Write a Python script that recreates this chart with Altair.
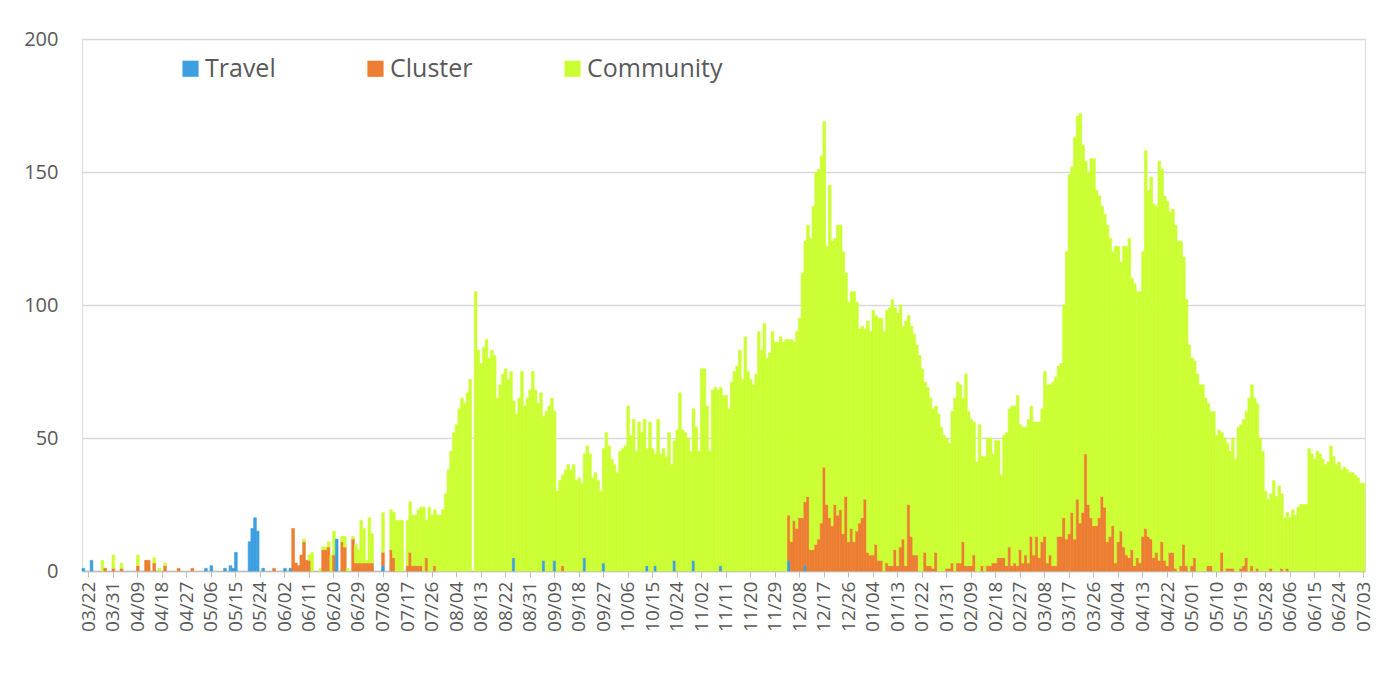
import altair as alt
import pandas as pd

# ---- categories: one bar per day, 2020-03-20 .. 2021-07-03 ----
start_date = "2020-03-20"
n_days = 471
dates = pd.date_range(start_date, periods=n_days, freq="D").strftime("%Y-%m-%d").tolist()
label_dates = dates[2::9]          # 03/22, 03/31, ... every 9 days

series_names = ["Travel", "Cluster", "Community"]
series_colors = ["#3d9fe0", "#ed7d31", "#ccff33"]

# ---- daily values ----
travel = [
    1, 0, 0, 4, 0, 0, 0, 0, 0, 0,
    0, 0, 0, 0, 0, 0, 0, 0, 0, 0,
    0, 0, 0, 0, 0, 0, 0, 0, 0, 0,
    0, 0, 0, 0, 0, 0, 0, 0, 0, 0,
    0, 0, 0, 0, 0, 1, 0, 2, 0, 0,
    0, 0, 1, 0, 2, 1, 7, 0, 0, 0,
    0, 11, 16, 20, 15, 0, 1, 0, 0, 0,
    0, 0, 0, 0, 1, 0, 1, 0, 0, 0,
    0, 0, 0, 0, 0, 0, 0, 0, 0, 0,
    0, 0, 0, 12, 0, 0, 0, 0, 0, 0,
    0, 0, 0, 0, 0, 0, 0, 0, 0, 0,
    2, 0, 0, 0, 0, 0, 0, 0, 0, 0,
    0, 0, 0, 0, 0, 0, 0, 0, 0, 0,
    0, 0, 0, 0, 0, 0, 0, 0, 0, 0,
    0, 0, 0, 0, 0, 0, 0, 0, 0, 0,
    0, 0, 0, 0, 0, 0, 0, 0, 5, 0,
    0, 0, 0, 0, 0, 0, 0, 0, 0, 4,
    0, 0, 0, 4, 0, 0, 0, 0, 0, 0,
    0, 0, 0, 0, 5, 0, 0, 0, 0, 0,
    0, 3, 0, 0, 0, 0, 0, 0, 0, 0,
    0, 0, 0, 0, 0, 0, 0, 2, 0, 0,
    2, 0, 0, 0, 0, 0, 0, 4, 0, 0,
    0, 0, 0, 0, 4, 0, 0, 0, 0, 0,
    0, 0, 0, 0, 2, 0, 0, 0, 0, 0,
    0, 0, 0, 0, 0, 0, 0, 0, 0, 0,
    0, 0, 0, 0, 0, 0, 0, 0, 0, 4,
    0, 0, 0, 0, 0, 2, 0, 0, 0, 0,
    0, 0, 0, 0, 0, 0, 0, 0, 0, 0,
    0, 0, 0, 0, 0, 0, 0, 0, 0, 0,
    0, 0, 0, 0, 0, 0, 0, 0, 0, 0,
    0, 0, 0, 0, 0, 0, 0, 0, 0, 0,
    0, 0, 0, 0, 0, 0, 0, 0, 0, 0,
    0, 0, 0, 0, 0, 0, 0, 0, 0, 0,
    0, 0, 0, 0, 0, 0, 0, 0, 0, 0,
    0, 0, 0, 0, 0, 0, 0, 0, 0, 0,
    0, 0, 0, 0, 0, 0, 0, 0, 0, 0,
    0, 0, 0, 0, 0, 0, 0, 0, 0, 0,
    0, 0, 0, 0, 0, 0, 0, 0, 0, 0,
    0, 0, 0, 0, 0, 0, 0, 0, 0, 0,
    0, 0, 0, 0, 0, 0, 0, 0, 0, 0,
    0, 0, 0, 0, 0, 0, 0, 0, 0, 0,
    0, 0, 0, 0, 0, 0, 0, 0, 0, 0,
    0, 0, 0, 0, 0, 0, 0, 0, 0, 0,
    0, 0, 0, 0, 0, 0, 0, 0, 0, 0,
    0, 0, 0, 0, 0, 0, 0, 0, 0, 0,
    0, 0, 0, 0, 0, 0, 0, 0, 0, 0,
    0, 0, 0, 0, 0, 0, 0, 0, 0, 0, 0,
]

cluster = [
    0, 0, 0, 0, 0, 0, 0, 0, 1, 0,
    0, 1, 0, 0, 1, 0, 0, 0, 0, 0,
    2, 0, 0, 4, 4, 0, 3, 0, 0, 0,
    2, 0, 0, 0, 0, 1, 0, 0, 0, 0,
    1, 0, 0, 0, 0, 0, 0, 0, 0, 0,
    0, 0, 0, 0, 0, 0, 0, 0, 0, 0,
    0, 0, 0, 0, 0, 0, 0, 0, 0, 0,
    1, 0, 0, 0, 0, 0, 0, 16, 3, 2,
    6, 11, 4, 4, 0, 0, 0, 0, 8, 8,
    9, 0, 6, 0, 0, 11, 9, 0, 0, 12,
    3, 3, 3, 3, 3, 3, 3, 0, 0, 0,
    5, 0, 0, 8, 5, 0, 0, 0, 0, 2,
    7, 2, 2, 2, 2, 0, 5, 0, 0, 2,
    0, 0, 0, 0, 0, 0, 0, 0, 0, 0,
    0, 0, 0, 0, 0, 0, 0, 0, 0, 0,
    0, 0, 0, 0, 0, 0, 0, 0, 0, 0,
    0, 0, 0, 0, 0, 0, 0, 0, 0, 0,
    0, 0, 0, 0, 0, 0, 2, 0, 0, 0,
    0, 0, 0, 0, 0, 0, 0, 0, 0, 0,
    0, 0, 0, 0, 0, 0, 0, 0, 0, 0,
    0, 0, 0, 0, 0, 0, 0, 0, 0, 0,
    0, 0, 0, 0, 0, 0, 0, 0, 0, 0,
    0, 0, 0, 0, 0, 0, 0, 0, 0, 0,
    0, 0, 0, 0, 0, 0, 0, 0, 0, 0,
    0, 0, 0, 0, 0, 0, 0, 0, 0, 0,
    0, 0, 0, 0, 0, 0, 0, 0, 0, 17,
    11, 19, 16, 20, 20, 24, 28, 8, 8, 10,
    12, 18, 39, 25, 20, 17, 25, 21, 23, 14,
    28, 11, 16, 11, 15, 18, 20, 27, 7, 6,
    6, 10, 4, 4, 0, 3, 2, 2, 8, 2,
    9, 12, 2, 25, 13, 6, 6, 0, 0, 7,
    2, 2, 1, 7, 0, 0, 0, 1, 1, 3,
    0, 3, 3, 11, 2, 2, 2, 6, 0, 0,
    2, 0, 2, 2, 3, 3, 5, 5, 5, 2,
    9, 2, 3, 2, 8, 3, 6, 3, 13, 6,
    13, 5, 11, 13, 3, 6, 2, 2, 13, 13,
    20, 12, 14, 22, 12, 27, 18, 22, 44, 25,
    20, 17, 17, 20, 28, 24, 11, 13, 17, 3,
    11, 15, 9, 6, 5, 8, 2, 5, 3, 13,
    16, 13, 12, 5, 7, 4, 11, 4, 2, 7,
    7, 1, 0, 2, 10, 2, 0, 2, 5, 0,
    0, 0, 0, 2, 2, 0, 0, 0, 7, 0,
    1, 1, 1, 0, 0, 1, 2, 5, 0, 2,
    0, 1, 0, 0, 0, 0, 1, 0, 0, 0,
    1, 0, 1, 0, 0, 0, 0, 0, 0, 0,
    0, 0, 0, 0, 0, 0, 0, 0, 0, 0,
    0, 0, 0, 0, 0, 0, 0, 0, 0, 0, 0,
]

community = [
    0, 0, 0, 0, 0, 0, 0, 4, 0, 0,
    0, 5, 0, 0, 2, 0, 0, 0, 0, 0,
    4, 0, 0, 0, 0, 0, 2, 0, 1, 0,
    1, 0, 0, 0, 0, 0, 0, 0, 0, 0,
    0, 0, 0, 0, 0, 0, 0, 0, 0, 0,
    0, 0, 0, 0, 0, 0, 0, 0, 0, 0,
    0, 0, 0, 0, 0, 0, 0, 0, 0, 0,
    0, 0, 0, 0, 0, 0, 0, 0, 0, 0,
    0, 1, 0, 2, 7, 0, 0, 1, 1, 1,
    2, 6, 9, 0, 0, 2, 4, 1, 0, 1,
    7, 5, 16, 13, 1, 17, 11, 0, 0, 0,
    15, 0, 0, 15, 17, 19, 19, 19, 0, 17,
    19, 19, 19, 21, 22, 24, 14, 24, 21, 21,
    21, 21, 23, 29, 38, 45, 52, 55, 61, 65,
    63, 67, 72, 0, 105, 83, 78, 84, 87, 80,
    83, 81, 65, 70, 74, 76, 72, 75, 59, 59,
    65, 75, 62, 65, 68, 75, 68, 63, 67, 54,
    60, 62, 65, 56, 30, 34, 34, 38, 40, 38,
    40, 34, 35, 33, 39, 47, 44, 35, 37, 34,
    30, 43, 52, 47, 42, 40, 37, 45, 46, 47,
    62, 51, 57, 45, 56, 52, 57, 44, 56, 46,
    42, 57, 44, 46, 43, 52, 40, 45, 53, 67,
    53, 52, 50, 45, 57, 54, 45, 76, 76, 62,
    45, 68, 69, 68, 67, 66, 66, 61, 71, 75,
    77, 83, 72, 88, 75, 72, 70, 74, 90, 83,
    93, 80, 82, 90, 86, 86, 88, 86, 87, 66,
    76, 67, 74, 75, 92, 98, 102, 117, 129, 140,
    139, 138, 130, 97, 125, 107, 100, 109, 107, 106,
    84, 90, 89, 94, 86, 73, 72, 64, 87, 84,
    92, 86, 91, 91, 90, 95, 97, 100, 91, 95,
    91, 80, 92, 71, 79, 83, 79, 81, 76, 64,
    67, 63, 60, 55, 59, 54, 51, 49, 47, 57,
    65, 68, 67, 54, 72, 58, 55, 50, 41, 55,
    41, 43, 48, 48, 41, 46, 44, 31, 46, 50,
    52, 60, 59, 64, 47, 51, 48, 54, 49, 50,
    43, 51, 50, 62, 67, 64, 69, 71, 64, 65,
    80, 108, 135, 130, 151, 144, 154, 138, 110, 125,
    135, 138, 126, 121, 109, 110, 119, 112, 103, 119,
    111, 101, 113, 116, 120, 102, 106, 100, 102, 107,
    142, 130, 136, 133, 130, 150, 140, 137, 137, 128,
    129, 129, 124, 122, 108, 100, 85, 78, 74, 74,
    70, 70, 65, 61, 58, 60, 51, 53, 45, 50,
    47, 44, 49, 42, 54, 54, 55, 55, 65, 68,
    65, 62, 50, 45, 30, 27, 28, 34, 28, 32,
    28, 20, 21, 20, 23, 21, 24, 25, 25, 25,
    46, 44, 42, 45, 44, 42, 40, 41, 47, 43,
    40, 41, 38, 39, 38, 37, 37, 36, 35, 33, 33,
]

y_ticks = [0, 50, 100, 150, 200]

# ---- long table for stacking ----
records = []
for i, d in enumerate(dates):
    for k, (name, arr) in enumerate(zip(series_names, [travel, cluster, community])):
        records.append({"date": d, "series": name, "value": arr[i], "order": k})
df = pd.DataFrame(records)

FONT = "Open Sans"
TXT = "#595959"

color_scale = alt.Scale(domain=series_names, range=series_colors)

chart = (
    alt.Chart(df)
    .transform_filter("datum.value > 0")
    .mark_bar(strokeWidth=0.6)
    .encode(
        x=alt.X(
            "date:O",
            scale=alt.Scale(domain=dates, paddingInner=0, paddingOuter=0),
            axis=alt.Axis(
                values=label_dates,
                labelExpr="substring(datum.value,5,7) + '/' + substring(datum.value,8,10)",
                labelAngle=270,
                title=None,
                labelFont=FONT,
                labelFontSize=19,
                labelColor=TXT,
                labelPadding=4,
                ticks=True,
                tickSize=6,
                tickColor="#bfbfbf",
                domainColor="#bfbfbf",
                domainWidth=1.5,
                grid=False,
            ),
        ),
        y=alt.Y(
            "value:Q",
            stack="zero",
            scale=alt.Scale(domain=[0, 200], nice=False),
            axis=alt.Axis(
                values=y_ticks,
                title=None,
                ticks=False,
                domain=False,
                labelFont=FONT,
                labelFontSize=20,
                labelColor=TXT,
                labelPadding=24,
                gridColor="#d9d9d9",
                gridWidth=1.5,
            ),
        ),
        color=alt.Color(
            "series:N",
            scale=color_scale,
            legend=alt.Legend(
                orient="none",
                legendX=96,
                legendY=17,
                direction="horizontal",
                title=None,
                symbolType="square",
                symbolSize=260,
                symbolStrokeWidth=0,
                labelFont=FONT,
                labelFontSize=25,
                labelColor=TXT,
                labelOffset=2,
                columnPadding=87,
            ),
        ),
        stroke=alt.Stroke("series:N", scale=color_scale, legend=None),
        order=alt.Order("order:Q", sort="ascending"),
    )
    .properties(
        width=1283,
        height=532,
        autosize=alt.AutoSizeParams(type="none"),
        padding={"left": 74, "top": 31, "right": 20, "bottom": 90},
    )
    .configure_view(stroke="#d9d9d9", strokeWidth=1.5)
    .configure(background="white")
)

chart.save("out.html", embed_options={"renderer": "svg", "actions": False})
